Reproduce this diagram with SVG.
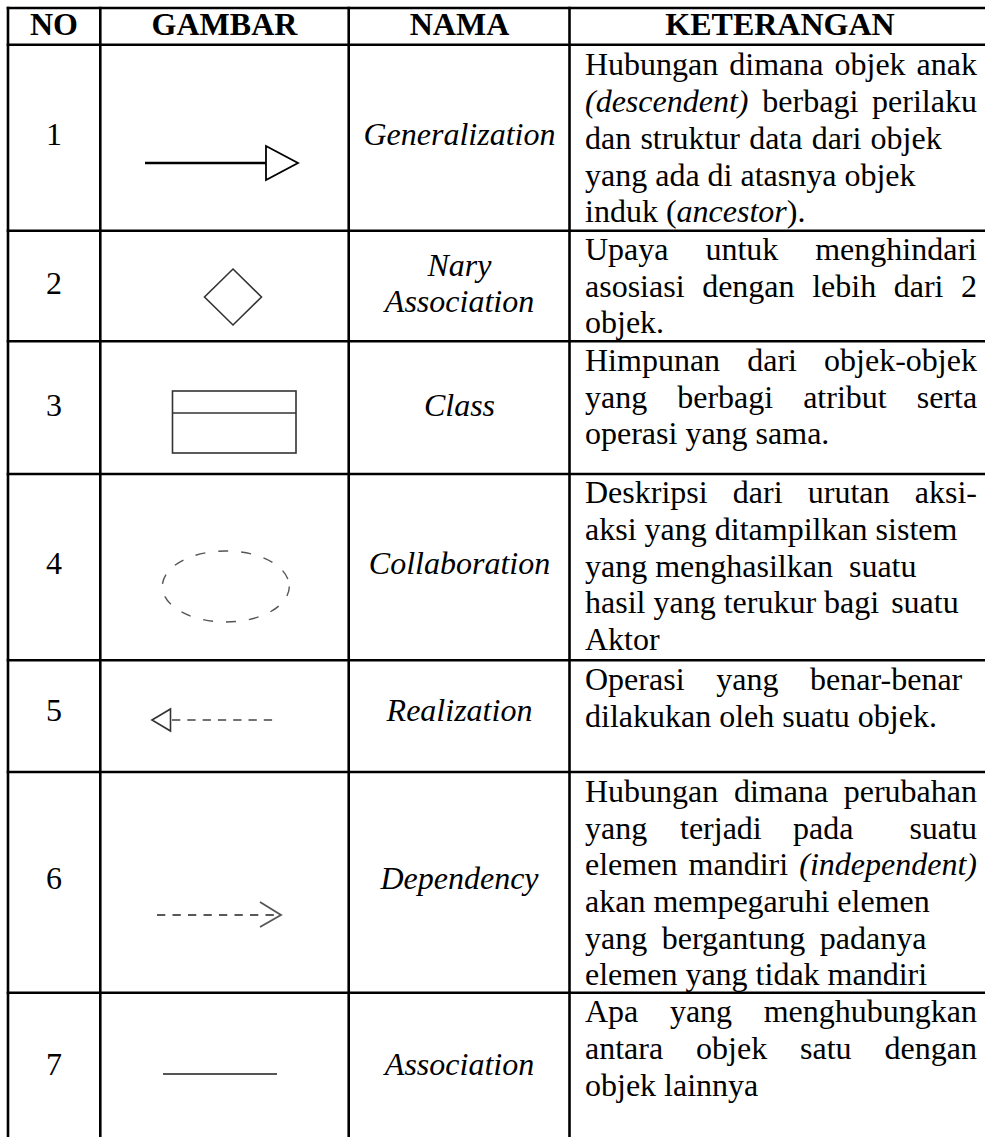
<svg xmlns="http://www.w3.org/2000/svg" width="985" height="1137" viewBox="0 0 985 1137">
<style>
text{font-family:"Liberation Serif","Times New Roman",serif;font-size:32px;fill:#000}
.h{font-weight:bold;text-anchor:middle}
.c{text-anchor:middle}
.i{font-style:italic}
.grid line{stroke:#000;stroke-width:2.6}
.fig{fill:none;stroke:#333;stroke-width:1.6}
</style>
<rect width="985" height="1137" fill="#fff"/>
<g id="grid" class="grid">
<line x1="6.7" y1="8" x2="985" y2="8"/>
<line x1="6.7" y1="44.7" x2="985" y2="44.7"/>
<line x1="6.7" y1="230.7" x2="985" y2="230.7"/>
<line x1="6.7" y1="341.3" x2="985" y2="341.3"/>
<line x1="6.7" y1="474" x2="985" y2="474"/>
<line x1="6.7" y1="660.3" x2="985" y2="660.3"/>
<line x1="6.7" y1="772" x2="985" y2="772"/>
<line x1="6.7" y1="992.7" x2="985" y2="992.7"/>
<line x1="8" y1="6.7" x2="8" y2="1137"/>
<line x1="100.3" y1="6.7" x2="100.3" y2="1137"/>
<line x1="348.7" y1="6.7" x2="348.7" y2="1137"/>
<line x1="569.5" y1="6.7" x2="569.5" y2="1137"/>
</g>
<g id="header">
<text class="h" x="54" y="35">NO</text>
<text class="h" x="224.5" y="35">GAMBAR</text>
<text class="h" x="459.5" y="35">NAMA</text>
<text class="h" x="780" y="35">KETERANGAN</text>
</g>
<g id="row1">
<text class="c" x="54" y="145">1</text>
<line x1="145" y1="163" x2="266" y2="163" stroke="#000" stroke-width="2.4"/>
<polygon points="266,146 298,163 266,180" fill="#fff" stroke="#000" stroke-width="1.8"/>
<text class="c i" x="459.5" y="145">Generalization</text>
<text x="585" y="75" word-spacing="3">Hubungan dimana objek anak</text>
<text x="585" y="111.5" word-spacing="5.85"><tspan class="i">(descendent)</tspan> berbagi perilaku</text>
<text x="585" y="148.5" word-spacing="1.2">dan struktur data dari objek</text>
<text x="585" y="185.5">yang ada di atasnya objek</text>
<text x="585" y="222">induk (<tspan class="i">ancestor</tspan>).</text>
</g>
<g id="row2">
<text class="c" x="54" y="294">2</text>
<polygon class="fig" points="233,269 261.5,297 233,325 204.5,297" stroke="#444"/>
<text class="c i" x="459.5" y="275.5">Nary</text>
<text class="c i" x="459.5" y="312">Association</text>
<text x="585" y="260" word-spacing="28.9">Upaya untuk menghindari</text>
<text x="585" y="296.5" word-spacing="9.6">asosiasi dengan lebih dari 2</text>
<text x="585" y="333">objek.</text>
</g>
<g id="row3">
<text class="c" x="54" y="415.5">3</text>
<rect class="fig" x="172.5" y="391" width="123.5" height="62" stroke="#222"/>
<line class="fig" x1="172.5" y1="413" x2="296" y2="413" stroke="#222"/>
<text class="c i" x="459.5" y="415.5">Class</text>
<text x="585" y="371" word-spacing="19.1">Himpunan dari objek-objek</text>
<text x="585" y="407.5" word-spacing="22">yang berbagi atribut serta</text>
<text x="585" y="444">operasi yang sama.</text>
</g>
<g id="row4">
<text class="c" x="54" y="574">4</text>
<ellipse cx="225.8" cy="586.5" rx="63.5" ry="35.5" fill="none" stroke="#555" stroke-width="1.4" stroke-dasharray="10 13"/>
<text class="c i" x="459.5" y="574">Collaboration</text>
<text x="585" y="503" word-spacing="17.2">Deskripsi dari urutan aksi-</text>
<text x="585" y="540">aksi yang ditampilkan sistem</text>
<text x="585" y="576.5">yang menghasilkan <tspan dx="8">suatu</tspan></text>
<text x="585" y="613">hasil yang terukur bagi <tspan dx="4">suatu</tspan></text>
<text x="585" y="650">Aktor</text>
</g>
<g id="row5">
<text class="c" x="54" y="721">5</text>
<polygon points="152,720 170.5,709 170.5,731" fill="#fff" stroke="#333" stroke-width="1.6"/>
<line x1="172" y1="720" x2="273" y2="720" stroke="#444" stroke-width="1.5" stroke-dasharray="8.3 7"/>
<text class="c i" x="459.5" y="721">Realization</text>
<text x="585" y="690" word-spacing="23.7">Operasi yang benar-benar</text>
<text x="585" y="726.5">dilakukan oleh suatu objek.</text>
</g>
<g id="row6">
<text class="c" x="54" y="889">6</text>
<line x1="157" y1="915" x2="278" y2="915" stroke="#222" stroke-width="1.5" stroke-dasharray="8.3 7.2"/>
<polyline points="260,902 281,915 260,927" fill="none" stroke="#555" stroke-width="1.8"/>
<text class="c i" x="459.5" y="889">Dependency</text>
<text x="585" y="802" word-spacing="7.6">Hubungan dimana perubahan</text>
<text y="838.5"><tspan x="585">yang</tspan><tspan x="680">terjadi</tspan><tspan x="793">pada</tspan><tspan x="909.4">suatu</tspan></text>
<text x="585" y="875" word-spacing="3.15">elemen mandiri <tspan class="i">(independent)</tspan></text>
<text x="585" y="912">akan mempegaruhi elemen</text>
<text x="585" y="948.5" word-spacing="6.6">yang bergantung padanya</text>
<text x="585" y="985">elemen yang tidak mandiri</text>
</g>
<g id="row7">
<text class="c" x="54" y="1075">7</text>
<line x1="163" y1="1074" x2="277" y2="1074" stroke="#555" stroke-width="1.8"/>
<text class="c i" x="459.5" y="1075">Association</text>
<text x="585" y="1022" word-spacing="23.6">Apa yang menghubungkan</text>
<text x="585" y="1059" word-spacing="24.9">antara objek satu dengan</text>
<text x="585" y="1096">objek lainnya</text>
</g>
<g id="connectors"/>
</svg>
